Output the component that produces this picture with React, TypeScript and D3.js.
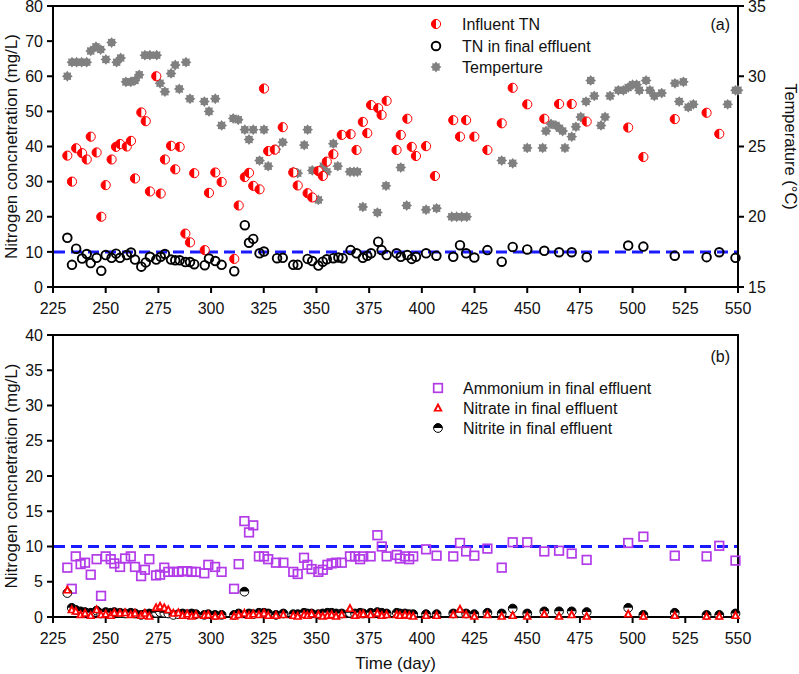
import React from "react";
import * as d3 from "d3";

// ---------- DATA ----------
const influentDays = [231.8,234,236,238.8,241,242.9,245.7,247.9,250,252.8,254.9,256.8,260,262,263.9,266.9,269,271,274,276.1,278.1,281,283,285.1,287.8,290,292,297,299,302,305,311,313.1,316,318,320,323,325.1,327.1,330.2,334,339,341.1,345.8,348,350.9,353,354.9,358,362,366.2,369,372,374.1,375.9,379.3,380.9,383.3,388,390,393.1,395.2,397.2,402,406.2,414.9,418.1,421,424.9,431.1,437.9,443.1,450,458.1,465.1,471.1,478.2,497.9,505.1,520,535.1,541.1];
const influentTN = [37.4,30.0,39.5,38.1,36.3,42.8,38.3,20.0,29,36.3,39.9,40.7,40,41.6,30.9,49.7,47.2,27.2,60,26.6,36.3,40.2,33.5,39.9,15.2,12.7,32.4,10.5,26.8,32.6,29.9,8.0,23.2,31.3,32.5,28.8,27.8,56.5,38.7,39.1,45.5,32.6,28.9,26.7,25.5,33.0,31.6,35.7,37.8,43.3,43.5,39.0,47,43.8,51.8,50.9,49,53,39,43.3,47.9,39.9,37.3,40.1,31.6,47.5,42.8,47.5,42.8,39,46.6,56.7,52,47.9,52.1,52.1,47.1,45.4,37,47.8,49.6,43.6];

const effluentDays = [231.8,234,236,238.8,241,242.9,245.7,247.9,250,252.8,254.9,256.8,260,262,263.9,266.9,269,271,274,276.1,278.1,281,283,285.1,287.8,290,292,297,299,302,305,311,316,318,320,323,325.1,331.3,334,339,341.1,345.8,348,350.9,353,354.9,358,360.4,362.4,366.2,369,372,374.1,375.9,379.3,380.9,383.3,388,390,393.1,395.2,397.2,402,406.9,414.9,418.1,421,424.9,431.1,437.9,443.1,450,458.1,465.1,471.1,478.2,497.9,505.1,520,535.1,541.1,548.8];
const effluentTN = [14.0,6.3,10.9,8.1,9.4,6.8,8.3,4.6,9.1,8.3,9.5,8.3,9.1,9.8,7.8,5.8,7.0,8.6,7.8,8.6,9.4,7.8,7.6,7.6,7.1,7.1,6.5,6.2,8.1,7.4,6.3,4.5,17.6,12.6,13.7,9.6,10.1,8.2,8.3,6.3,6.3,8.0,7.4,6.1,7.2,7.9,8.2,8.4,8.2,10.5,9.6,8.3,8.9,9.6,12.9,10.5,9.1,9.6,8.6,9.1,8.0,8.6,9.6,8.9,8.6,11.9,9.6,8.4,10.5,7.2,11.4,10.7,10.3,9.9,9.9,8.5,11.8,11.5,8.9,8.5,9.9,8.3];

const tempDays = [231.8,234,236.2,238.6,241,242.9,245.4,247.6,250.1,252.8,255.2,257.1,259.6,261.9,263.9,265.9,268.6,271,274.2,275.8,278.1,281,283,284.9,288.1,290,296.8,299,302,305,310.5,312.9,316,318,320,323,325.1,327.1,330.8,334,339,341.1,344.2,345.8,348,350.9,352.5,353.3,354.9,358,360.1,365.9,367.8,369.4,372,378.9,383,390,392.8,402,407,414.2,416.5,418.9,421.3,437.9,443.1,450,457.3,458.9,461.3,463.6,465.3,466.8,467.9,471.1,473.1,475.4,477.9,480.1,481.8,485,486.9,489.3,493.2,495.6,497.9,500,501.9,503.2,506.4,508.2,510.3,513.8,520.1,522.1,524.1,526.4,528.8,545.1,548.8,550];
const temperature = [30.0,31.0,31.0,31.0,31.0,31.8,32.1,31.9,31.2,32.4,31.0,31.3,29.6,29.6,29.7,30.1,31.5,31.5,31.5,29.5,28.9,30.2,30.8,29.1,31.0,28.4,28.2,27.5,28.4,26.5,27.0,26.9,26.2,25.5,26.2,24.0,26.2,23.6,24.8,25.3,23.2,23.1,25.1,26.2,23.3,21.2,23.3,23.6,23.2,25.2,23.6,23.2,23.2,23.2,20.7,20.3,22.2,23.5,20.8,20.5,20.6,20.0,20.0,20.0,20.0,24.0,23.8,24.9,24.9,26.1,26.6,26.5,26.3,26.1,24.9,25.7,26.4,27.1,28.2,29.7,28.6,26.5,27.1,28.6,29.0,29.0,29.2,29.4,29.4,29.0,29.7,29.0,28.6,28.8,29.5,28.2,29.6,27.8,28.0,28.0,29.0,29.0];

const bottomDays = [231.8,233.9,235.8,238.1,240.2,242.9,245.7,247.8,250,252.4,254.1,256.8,259.2,261.9,263.9,266.8,268.6,270.7,273.9,275.8,277.8,279.7,282.1,284.5,286.5,288.7,290.8,292.8,296.8,298.7,301.9,305,310.9,313.1,315.8,318,320,322.7,325.1,327.1,330.8,334.3,339,341.1,344.1,345.7,347.7,350.9,353,355.2,357.2,359.3,362,365.9,368.3,370.7,372.2,375.7,378.9,381,383.3,388.1,389.6,392,394,395.9,402,407,414.9,418.1,421,424.9,431.1,437.9,443.1,450,458.1,465.1,471.1,478.2,497.9,505.1,520,535.1,541.1,548.8];
const ammonium = [7.0,4.0,8.6,7.5,7.7,6.0,8.2,3.0,8.6,8.2,7.6,7.1,8.3,8.6,7.1,5.8,6.7,8.2,5.9,6.0,7.0,6.4,6.4,6.4,6.5,6.5,6.4,6.4,6.2,7.4,7.1,6.4,4.0,7.5,13.6,12.0,13.0,8.6,8.6,8.2,7.7,7.7,6.4,6.1,8.4,7.4,6.8,6.4,6.7,7.4,7.6,7.7,7.7,8.6,8.6,8.2,8.6,8.6,11.6,10.0,8.6,8.8,8.3,8.6,8.2,8.6,9.6,8.7,8.6,10.5,9.3,8.7,9.7,7.0,10.6,10.6,9.3,9.4,9.0,8.1,10.5,11.4,8.7,8.6,10.1,8.0];
const nitrate = [3.8,1.0,0.8,0.3,0.5,0.2,1.0,0.3,0.4,0.2,0.6,0.5,0.6,0.3,0.5,0.2,0.5,0.1,1.3,1.5,1.3,1.0,0.5,0.6,0.2,0.4,0.1,0.3,0.2,0.3,0.1,0.2,0.1,0.3,0.5,0.2,0.4,0.3,0.5,0.2,0.2,0.3,0.2,0.1,0.3,0.2,0.4,0.3,0.1,0.2,0.3,0.1,0.3,1.2,0.2,0.3,0.4,0.3,0.5,0.2,0.3,0.3,0.2,0.3,0.2,0.1,0.2,0.2,0.3,1.1,0.3,0.1,0.3,0.1,0.2,0.1,0.4,0.1,0.3,0.1,0.4,0.1,0.2,0.1,0.1,0.2];
const nitrite = [3.4,1.3,1.0,0.8,0.7,0.6,0.9,0.5,0.7,0.6,0.7,0.6,0.5,0.6,0.5,0.3,0.4,0.5,0.6,0.7,0.6,0.5,0.3,0.4,0.5,0.4,0.5,0.4,0.3,0.4,0.3,0.3,0.3,0.5,3.6,0.5,0.4,0.6,0.6,0.5,0.3,0.5,0.4,0.4,0.6,0.5,0.5,0.4,0.5,0.6,0.6,0.5,0.5,0.6,0.5,0.6,0.5,0.6,0.7,0.6,0.5,0.6,0.5,0.5,0.4,0.4,0.4,0.4,0.5,0.6,0.5,0.4,0.6,0.5,1.2,0.5,0.8,0.8,0.8,0.7,1.3,0.3,0.6,0.3,0.3,0.5];

const xTicks = [225,250,275,300,325,350,375,400,425,450,475,500,525,550];
const yTopTicks = [0,10,20,30,40,50,60,70,80];
const tempTicks = [15,20,25,30,35];
const yBotTicks = [0,5,10,15,20,25,30,35,40];
const limitValue = 10;

const topLegend = ["Influent TN", "TN in final effluent", "Temperture"];
const botLegend = ["Ammonium in final effluent", "Nitrate in final effluent", "Nitrite in final effluent"];

// ---------- LAYOUT ----------
const W = 799, H = 674;
const X0 = 53, X1 = 738;
const TOP_Y0 = 287, TOP_Y1 = 6;
const BOT_Y0 = 617, BOT_Y1 = 335;
const FONT = "'Liberation Sans', Arial, sans-serif";
const RED = "#ff0000";
const PURPLE = "#b23ae8";
const GREY = "#808080";
const BLUE = "#1a1aff";

const x = d3.scaleLinear().domain([225, 550]).range([X0, X1]);
const yTop = d3.scaleLinear().domain([0, 80]).range([TOP_Y0, TOP_Y1]);
const yTemp = d3.scaleLinear().domain([15, 35]).range([TOP_Y0, TOP_Y1]);
const yBot = d3.scaleLinear().domain([0, 40]).range([BOT_Y0, BOT_Y1]);

const starPath = (() => {
  const pts: [number, number][] = [];
  const n = 8, ro = 5.4, ri = 3.8;
  for (let i = 0; i < n * 2; i++) {
    const r = i % 2 === 0 ? ro : ri;
    const a = (Math.PI * i) / n - Math.PI / 2;
    pts.push([r * Math.cos(a), r * Math.sin(a)]);
  }
  return d3.line()(pts) + "Z";
})();

const HalfRed = ({ cx, cy }: { cx: number; cy: number }) => {
  const r = 4.6;
  return (
    <g transform={`translate(${cx},${cy})`}>
      <circle r={r} fill="white" stroke={RED} strokeWidth={1} />
      <path d={`M0,${-r} A${r},${r} 0 0,0 0,${r} Z`} fill={RED} />
    </g>
  );
};
const OpenCircle = ({ cx, cy }: { cx: number; cy: number }) => (
  <circle cx={cx} cy={cy} r={4.3} fill="none" stroke="#000" strokeWidth={1.9} />
);
const Star = ({ cx, cy }: { cx: number; cy: number }) => (
  <path transform={`translate(${cx},${cy})`} d={starPath} fill={GREY} />
);
const Square = ({ cx, cy }: { cx: number; cy: number }) => (
  <rect x={cx - 4.3} y={cy - 4.3} width={8.6} height={8.6} fill="none" stroke={PURPLE} strokeWidth={1.7} />
);
const Tri = ({ cx, cy }: { cx: number; cy: number }) => (
  <g transform={`translate(${cx},${cy})`}>
    <path d="M0,-5.6 L4.8,3.4 L-4.8,3.4 Z" fill={RED} />
    <path d="M0,-1.6 L1.7,1.9 L-1.7,1.9 Z" fill="white" />
  </g>
);
const HalfBlack = ({ cx, cy }: { cx: number; cy: number }) => {
  const r = 4.4;
  return (
    <g transform={`translate(${cx},${cy})`}>
      <circle r={r} fill="white" stroke="#000" strokeWidth={1} />
      <path d={`M${-r},0 A${r},${r} 0 0,1 ${r},0 Z`} fill="#000" />
    </g>
  );
};

const tickText = { fontFamily: FONT, fontSize: 16, fill: "#111" } as const;

function XAxis({ y0 }: { y0: number }) {
  return (
    <g>
      <line x1={X0} x2={X1} y1={y0} y2={y0} stroke="#000" strokeWidth={2} />
      {xTicks.map((t) => (
        <g key={t}>
          <line x1={x(t)} x2={x(t)} y1={y0} y2={y0 + 6} stroke="#000" strokeWidth={2} />
          <text x={x(t)} y={y0 + 27} textAnchor="middle" {...tickText}>{t}</text>
        </g>
      ))}
    </g>
  );
}

function YAxisLeft({ scale, ticks, y0, y1 }: { scale: d3.ScaleLinear<number, number>; ticks: number[]; y0: number; y1: number }) {
  return (
    <g>
      <line x1={X0} x2={X0} y1={y0 + 1} y2={y1 - 1} stroke="#000" strokeWidth={2} />
      {ticks.map((t) => (
        <g key={t}>
          <line x1={X0 - 6} x2={X0} y1={scale(t)} y2={scale(t)} stroke="#000" strokeWidth={2} />
          <text x={43} y={scale(t) + 5.7} textAnchor="end" {...tickText}>{t}</text>
        </g>
      ))}
    </g>
  );
}

export default function App() {
  const dash = (scale: d3.ScaleLinear<number, number>) => (
    <line x1={X0 + 1} x2={X1 - 1} y1={scale(limitValue)} y2={scale(limitValue)} stroke={BLUE} strokeWidth={3} strokeDasharray="11,6" />
  );
  return (
    <svg width={W} height={H} viewBox={`0 0 ${W} ${H}`} style={{ position: "absolute", left: 0, top: 0, background: "#fff" }}>
      <rect width={W} height={H} fill="#fff" />
      {/* ---------- Panel (a) ---------- */}
      <line x1={X0} x2={X1} y1={TOP_Y1} y2={TOP_Y1} stroke="#000" strokeWidth={2} />
      <YAxisLeft scale={yTop} ticks={yTopTicks} y0={TOP_Y0} y1={TOP_Y1} />
      <line x1={X1} x2={X1} y1={TOP_Y0 + 1} y2={TOP_Y1 - 1} stroke="#000" strokeWidth={2} />
      {tempTicks.map((t) => (
        <g key={t}>
          <line x1={X1} x2={X1 + 6} y1={yTemp(t)} y2={yTemp(t)} stroke="#000" strokeWidth={2} />
          <text x={748} y={yTemp(t) + 5.7} textAnchor="start" {...tickText}>{t}</text>
        </g>
      ))}
      <XAxis y0={TOP_Y0} />
      {dash(yTop)}
      {tempDays.map((d, i) => <Star key={"t" + i} cx={x(d)} cy={yTemp(temperature[i])} />)}
      {influentDays.map((d, i) => <HalfRed key={"i" + i} cx={x(d)} cy={yTop(influentTN[i])} />)}
      {effluentDays.map((d, i) => <OpenCircle key={"e" + i} cx={x(d)} cy={yTop(effluentTN[i])} />)}
      <text x={730} y={30} textAnchor="end" {...tickText}>(a)</text>
      {/* legend a */}
      <HalfRed cx={436} cy={24} />
      <OpenCircle cx={436} cy={46} />
      <Star cx={436} cy={67} />
      {topLegend.map((s, i) => (
        <text key={s} x={462} y={[24, 46, 67][i] + 6} {...tickText}>{s}</text>
      ))}
      <text transform={`translate(17,${(TOP_Y0 + TOP_Y1) / 2}) rotate(-90)`} textAnchor="middle" fontFamily={FONT} fontSize={17} fill="#111">Nitrogen concnetration (mg/L)</text>
      <text transform={`translate(785,${(TOP_Y0 + TOP_Y1) / 2}) rotate(90)`} textAnchor="middle" fontFamily={FONT} fontSize={16.5} fill="#111">Temperature (°C)</text>

      {/* ---------- Panel (b) ---------- */}
      <line x1={X0} x2={X1} y1={BOT_Y1} y2={BOT_Y1} stroke="#000" strokeWidth={2} />
      <line x1={X1} x2={X1} y1={BOT_Y0 + 1} y2={BOT_Y1 - 1} stroke="#000" strokeWidth={2} />
      <YAxisLeft scale={yBot} ticks={yBotTicks} y0={BOT_Y0} y1={BOT_Y1} />
      <XAxis y0={BOT_Y0} />
      {dash(yBot)}
      {bottomDays.map((d, i) => <Square key={"a" + i} cx={x(d)} cy={yBot(ammonium[i])} />)}
      {bottomDays.map((d, i) => <HalfBlack key={"n2" + i} cx={x(d)} cy={yBot(nitrite[i])} />)}
      {bottomDays.map((d, i) => <Tri key={"n3" + i} cx={x(d)} cy={yBot(nitrate[i])} />)}
      <text x={730} y={362} textAnchor="end" {...tickText}>(b)</text>
      <Square cx={438} cy={388} />
      <Tri cx={438} cy={408} />
      <HalfBlack cx={438} cy={428} />
      {botLegend.map((s, i) => (
        <text key={s} x={463} y={[388, 408, 428][i] + 6} {...tickText}>{s}</text>
      ))}
      <text transform={`translate(17,${(BOT_Y0 + BOT_Y1) / 2}) rotate(-90)`} textAnchor="middle" fontFamily={FONT} fontSize={17} fill="#111">Nitrogen concnetration (mg/L)</text>
      <text x={(X0 + X1) / 2} y={669} textAnchor="middle" fontFamily={FONT} fontSize={17} fill="#111">Time (day)</text>
    </svg>
  );
}
